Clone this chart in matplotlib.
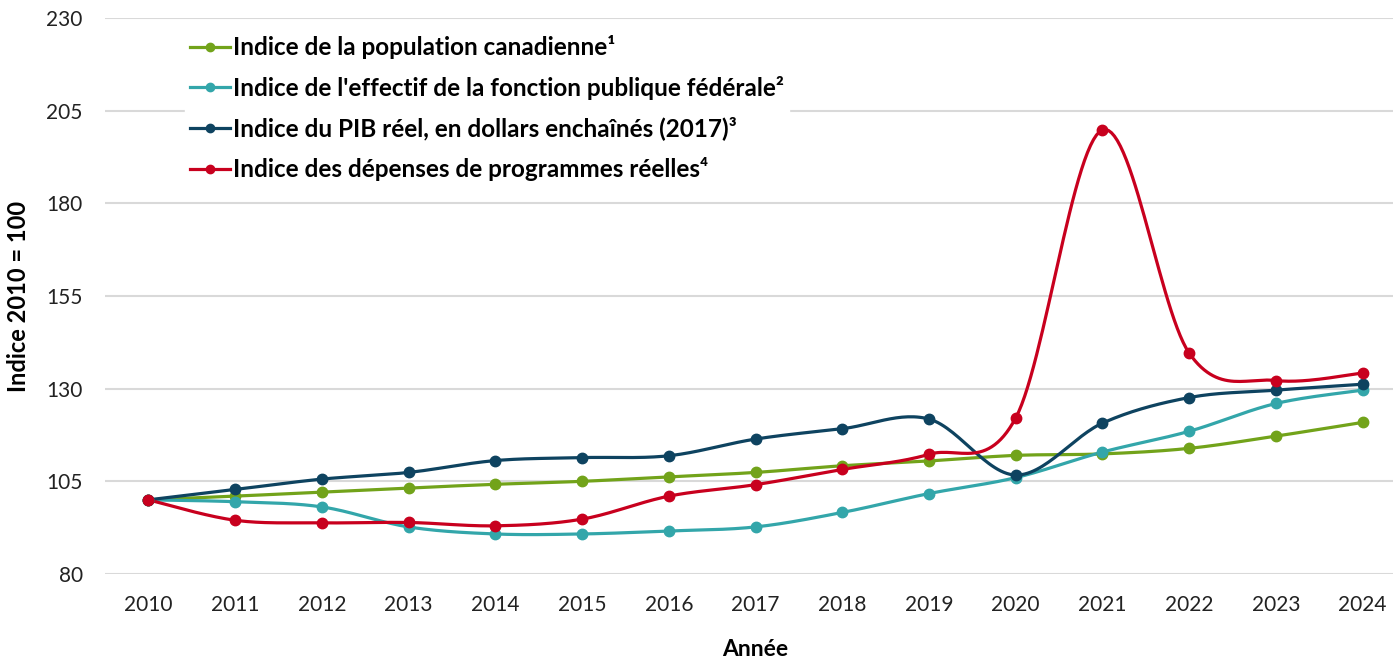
import numpy as np
import matplotlib.pyplot as plt
from matplotlib.lines import Line2D

plt.rcParams['font.family'] = ['Lato', 'DejaVu Sans']

annees = ['2010', '2011', '2012', '2013', '2014', '2015', '2016', '2017',
          '2018', '2019', '2020', '2021', '2022', '2023', '2024']

population = [100, 101.0, 102.1, 103.2, 104.2, 105.0, 106.2, 107.4,
              109.2, 110.5, 112.0, 112.4, 113.9, 117.2, 120.9]
effectif = [100, 99.5, 98.1, 92.7, 90.8, 90.8, 91.6, 92.7,
            96.6, 101.7, 106.0, 112.9, 118.5, 126.0, 129.6]
pib = [100, 102.8, 105.6, 107.4, 110.6, 111.4, 111.9, 116.4,
       119.2, 121.8, 106.7, 120.7, 127.6, 129.6, 131.2]
depenses = [100, 94.5, 93.8, 93.9, 93.0, 94.8, 101.0, 104.1,
            108.2, 112.3, 122.1, 199.8, 139.6, 132.2, 134.2]

noms = ['Indice de la population canadienne\u00b9',
        "Indice de l'effectif de la fonction publique fédérale\u00b2",
        'Indice du PIB réel, en dollars enchaînés (2017)\u00b3',
        'Indice des dépenses de programmes réelles\u2074']
couleurs = ['#72A31A', '#33A6AA', '#0E4360', '#C8001E']


def courbe_lissee(y, n=30):
    # bezier facon Excel (Catmull-Rom) entre les points
    x = np.arange(len(y), dtype=float)
    y = np.asarray(y, dtype=float)
    xs, ys = [], []
    for i in range(len(y) - 1):
        i0 = max(i - 1, 0)
        i3 = min(i + 2, len(y) - 1)
        p0 = np.array([x[i], y[i]])
        p3 = np.array([x[i + 1], y[i + 1]])
        c1 = p0 + (p3 - np.array([x[i0], y[i0]])) / 6
        c2 = p3 - (np.array([x[i3], y[i3]]) - p0) / 6
        t = np.linspace(0, 1, n)[:, None]
        pts = (1 - t) ** 3 * p0 + 3 * (1 - t) ** 2 * t * c1 + 3 * (1 - t) * t ** 2 * c2 + t ** 3 * p3
        xs.extend(pts[:, 0])
        ys.extend(pts[:, 1])
    return xs, ys


fig = plt.figure(figsize=(13.95, 6.6), dpi=100)
ax = fig.add_axes([105 / 1395, 1 - 574 / 660, (1393 - 105) / 1395, (574 - 18) / 660])

series = [population, effectif, pib, depenses]
handles = []
for vals, nom, c in zip(series, noms, couleurs):
    xs, ys = courbe_lissee(vals)
    ax.plot(xs, ys, color=c, lw=2.3, zorder=3, solid_capstyle='round')
    ax.plot(range(len(vals)), vals, 'o', color=c, ms=7.5, zorder=4)
    handles.append(Line2D([0], [0], color=c, lw=2.3, marker='o', ms=6, label=nom))

ax.set_xlim(-0.5, 14.35)
ax.set_ylim(80, 230)
ax.set_yticks([80, 105, 130, 155, 180, 205, 230])
ax.set_xticks(range(len(annees)))
ax.set_xticklabels(annees)
ax.tick_params(axis='both', length=0, labelsize=15, colors='#222222')
ax.tick_params(axis='x', pad=15)
ax.tick_params(axis='y', pad=16)
ax.grid(axis='y', color='#D9D9D9', lw=1.5)
ax.set_axisbelow(True)
for s in ax.spines.values():
    s.set_visible(False)

ax.set_xlabel('Année', fontsize=16.5, fontweight='bold')
ax.xaxis.set_label_coords(0.505, -0.117)
ax.set_ylabel('Indice 2010 = 100', fontsize=17, fontweight='bold')
ax.yaxis.set_label_coords(-0.058, 0.5)

leg = ax.legend(handles=handles, loc='upper left', bbox_to_anchor=(0.053, 1.0),
                frameon=True, fontsize=17.5, handlelength=1.65, handletextpad=0.1,
                labelspacing=0.69, borderpad=0.2)
leg.get_frame().set_edgecolor('white')
leg.get_frame().set_facecolor('white')
leg.get_frame().set_alpha(1)
for t in leg.get_texts():
    t.set_fontweight('bold')

fig.savefig('out.png', dpi=100)
